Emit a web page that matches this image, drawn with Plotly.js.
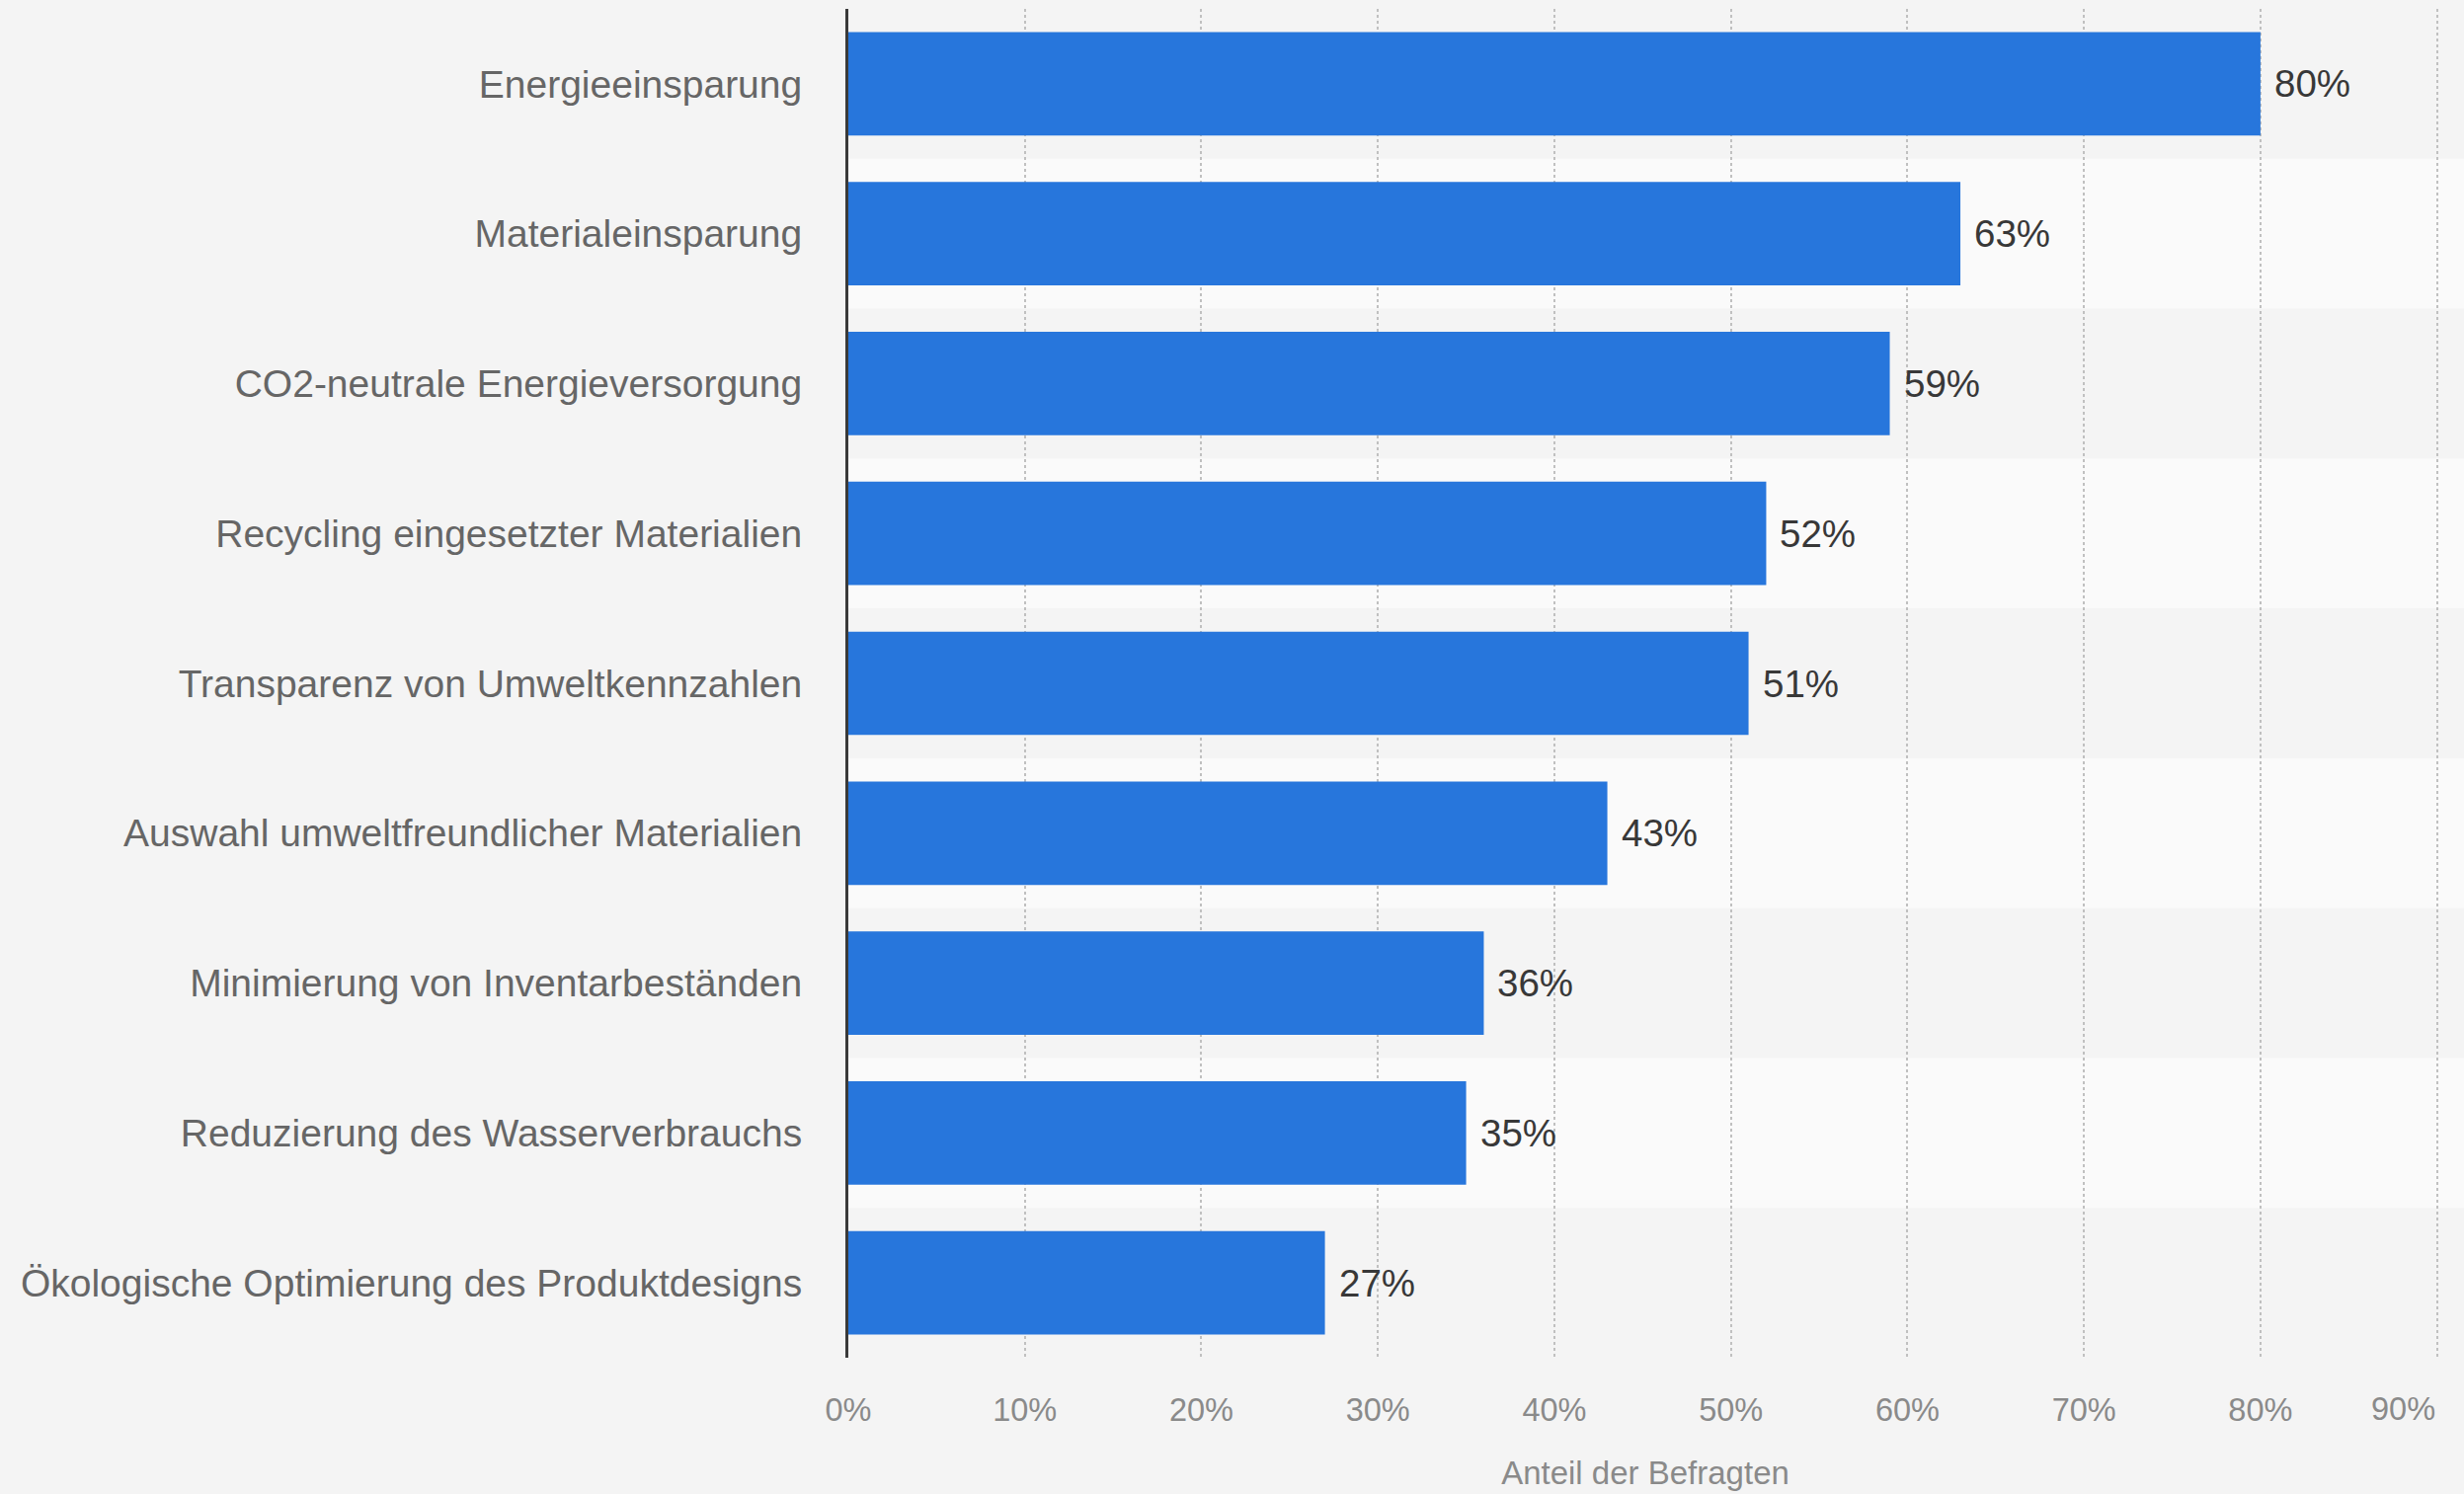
<!DOCTYPE html>
<html>
<head>
<meta charset="utf-8">
<script src="https://cdn.plot.ly/plotly-3.0.1.min.js"></script>
<style>
  html, body { margin: 0; padding: 0; background: #f4f4f4; }
  #chart { width: 2495px; height: 1513px; }
</style>
</head>
<body>
<div id="chart"></div>
<script>
const categories = [
  "Energieeinsparung",
  "Materialeinsparung",
  "CO2-neutrale Energieversorgung",
  "Recycling eingesetzter Materialien",
  "Transparenz von Umweltkennzahlen",
  "Auswahl umweltfreundlicher Materialien",
  "Minimierung von Inventarbeständen",
  "Reduzierung des Wasserverbrauchs",
  "Ökologische Optimierung des Produktdesigns"
];
const values = [80, 63, 59, 52, 51, 43, 36, 35, 27];
const tickValues = [0, 10, 20, 30, 40, 50, 60, 70, 80, 90];
const tickLabels = ["0%", "10%", "20%", "30%", "40%", "50%", "60%", "70%", "80%", "90%"];
const axisTitle = "Anteil der Befragten";

const FONT = "Liberation Sans, Arial, Helvetica, sans-serif";
const TICKFONT = { family: FONT, size: 32.5, color: "#8a8a8a" };
const n = categories.length;
const last = tickValues.length - 1;

const bands = [];
for (let i = 0; i < n; i++) {
  if (i % 2 === 1) {
    bands.push({
      type: "rect", xref: "paper", yref: "paper",
      x0: 0, x1: 1.03, y0: 1 - (i + 1) / n, y1: 1 - i / n,
      fillcolor: "#fafafa", line: { width: 0 }, layer: "below"
    });
  }
}

const annotations = values.map((v, i) => ({
  x: v, y: categories[i], xref: "x", yref: "y",
  text: v + "%", showarrow: false, xanchor: "left", yanchor: "middle",
  xshift: 12, font: { family: FONT, size: 38.5, color: "#383838" }
}));
// last tick label is right-aligned to the plot edge, like the reference
annotations.push({
  x: tickValues[last], y: 0, xref: "x", yref: "paper",
  text: tickLabels[last], showarrow: false, xanchor: "right", yanchor: "middle",
  yshift: -52, font: TICKFONT
});

const trace = {
  type: "bar",
  orientation: "h",
  x: values,
  y: categories,
  marker: { color: "#2776dc", line: { width: 0 } },
  hoverinfo: "none"
};

const layout = {
  width: 2495,
  height: 1513,
  paper_bgcolor: "#f4f4f4",
  plot_bgcolor: "rgba(0,0,0,0)",
  margin: { l: 859, r: 22, t: 9, b: 138, pad: 0 },
  bargap: 0.31,
  showlegend: false,
  shapes: bands,
  annotations: annotations,
  xaxis: {
    range: [0, 90.3],
    tickmode: "array",
    tickvals: tickValues,
    ticktext: tickLabels.map((t, i) => (i === last ? "" : t)),
    showgrid: true,
    gridcolor: "#c0c0c0",
    gridwidth: 2,
    griddash: "dot",
    zeroline: false,
    showline: false,
    ticks: "outside",
    ticklen: 24,
    tickcolor: "rgba(0,0,0,0)",
    tickfont: TICKFONT,
    title: { text: axisTitle, standoff: 34, font: { family: FONT, size: 33, color: "#8a8a8a" } },
    automargin: false,
    fixedrange: true
  },
  yaxis: {
    type: "category",
    range: [n - 0.5, -0.5],
    showgrid: false,
    zeroline: false,
    showline: true,
    linecolor: "#3a3a3a",
    linewidth: 3,
    ticks: "outside",
    ticklen: 36,
    tickcolor: "rgba(0,0,0,0)",
    tickfont: { family: FONT, size: 39, color: "#666666" },
    automargin: false,
    fixedrange: true
  }
};

Plotly.newPlot("chart", [trace], layout, { displayModeBar: false, staticPlot: true });
</script>
</body>
</html>
